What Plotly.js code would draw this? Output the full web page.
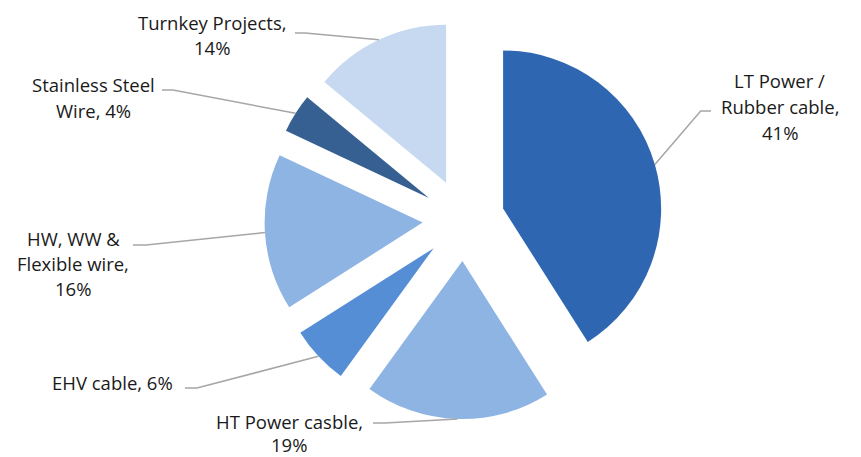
<!DOCTYPE html>
<html><head><meta charset="utf-8">
<script src="https://cdn.plot.ly/plotly-3.0.1.min.js"></script>
<style>html,body{margin:0;padding:0;background:#fff}#chart{width:861px;height:457px}</style>
</head><body><div id="chart"></div>
<script>
// ---- data ----
const categories = ["LT Power / Rubber cable", "HT Power casble", "EHV cable", "HW, WW & Flexible wire", "Stainless Steel Wire", "Turnkey Projects"];
const values = [41, 19, 6, 16, 4, 14];
const labelLines = [
  ["LT Power /", "Rubber cable,", "41%"],
  ["HT Power casble,", "19%"],
  ["EHV cable, 6%"],
  ["HW, WW &", "Flexible wire,", "16%"],
  ["Stainless Steel", "Wire, 4%"],
  ["Turnkey Projects,", "14%"]
];
const colors = ["#2E66B1", "#8EB4E3", "#558ED5", "#8EB4E3", "#376092", "#C6D9F1"];

// ---- layout positions (pixels) ----
const W = 861, H = 457;
const PULL = 0.26;
const labelX = [779.5, 289, 112.5, 73, 93, 212];
const labelY = [[80, 106, 132], [421, 444], [382], [238, 263, 288], [85, 110], [22, 47]];
const leaderStart = [[711, 111], [373, 423], [185, 388], [133, 245], [162, 90], [295, 33]];
const leaderElbow = [[700.7, 111], [385, 423], [197, 388], [146, 245], [173, 90], [305, 33]];

const px2x = p => p / W;
const px2y = p => 1 - p / H;

const annotations = [];
labelLines.forEach((lines, i) => {
  lines.forEach((t, j) => {
    annotations.push({
      xref: 'paper', yref: 'paper', x: px2x(labelX[i]), y: px2y(labelY[i][j]),
      xanchor: 'center', yanchor: 'middle', showarrow: false, text: t, borderpad: 0,
      font: {family: '"Open Sans", "Noto Sans", sans-serif', size: 18.5, color: '#1a1a1a'}
    });
  });
});

const data = [{
  type: 'pie',
  labels: categories,
  values: values,
  sort: false,
  direction: 'clockwise',
  rotation: 0,
  pull: values.map(() => PULL),
  marker: {colors: colors, line: {width: 0}},
  textinfo: 'none',
  hoverinfo: 'skip',
  showlegend: false,
  domain: {x: [0.2, 0.877], y: [0.0829, 0.9543]}
}];

const layout = {
  width: W, height: H,
  margin: {l: 0, r: 0, t: 0, b: 0},
  paper_bgcolor: '#ffffff', plot_bgcolor: '#ffffff',
  showlegend: false,
  annotations: annotations
};

const gd = document.getElementById('chart');
Plotly.newPlot(gd, data, layout, {staticPlot: true, displayModeBar: false}).then(() => {
  const cd = gd.calcdata[0];
  const cd0 = cd[0];
  const fs = gd._fullLayout._size;
  const total = values.reduce((a, b) => a + b, 0);
  let cum = 0;
  const shapes = [];
  cd.forEach((pt, k) => {
    const i = (pt.i !== undefined) ? pt.i : k;
    let mid = pt.pxmid;
    if (!mid) {
      const a = 2 * Math.PI * (cum + values[i] / 2) / total;
      mid = [cd0.r * Math.sin(a), -cd0.r * Math.cos(a)];
    }
    cum += values[i];
    const ex = cd0.cx + (1 + PULL) * mid[0];
    const ey = cd0.cy + (1 + PULL) * mid[1];
    const toX = p => (p - fs.l) / fs.w;
    const toY = p => 1 - (p - fs.t) / fs.h;
    const s = leaderStart[i], e = leaderElbow[i];
    shapes.push({
      type: 'path', xref: 'paper', yref: 'paper',
      path: `M ${toX(s[0])} ${toY(s[1])} L ${toX(e[0])} ${toY(e[1])} L ${toX(ex)} ${toY(ey)}`,
      line: {color: '#A6A6A6', width: 1.5}
    });
  });
  return Plotly.relayout(gd, {shapes: shapes});
});
</script>
</body></html>
